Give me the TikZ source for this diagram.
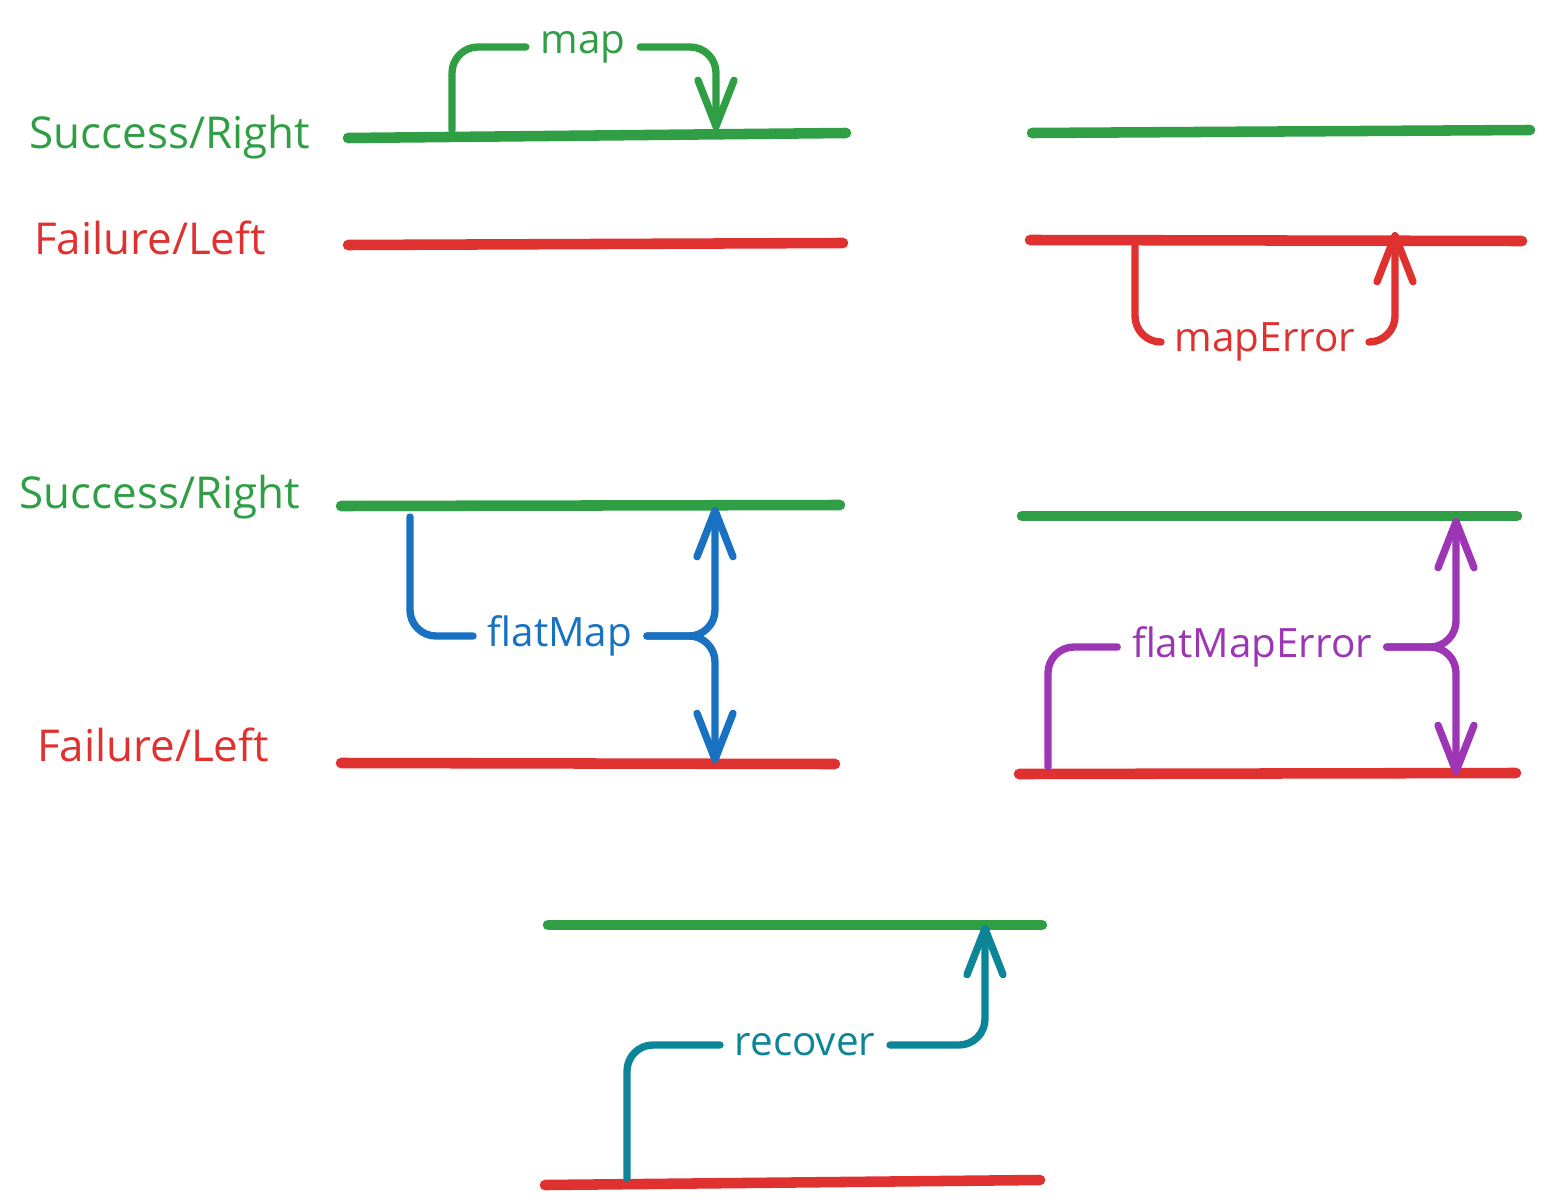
\documentclass[tikz,border=0pt]{standalone}
\usepackage{fontspec}
\setmainfont{Open Sans}
\usetikzlibrary{arrows.meta,calc,positioning}

\definecolor{okGreen}{HTML}{2F9E44}
\definecolor{failRed}{HTML}{E03131}
\definecolor{flatBlue}{HTML}{1971C2}
\definecolor{flatPurple}{HTML}{9C36B5}
\definecolor{recTeal}{HTML}{0C8599}

\begin{document}
\begin{tikzpicture}[
  line cap=round,
  line join=round,
  font=\fontsize{12.5}{15}\selectfont,
  track/.style={line width=3pt},
  okTrack/.style={track, draw=okGreen},
  failTrack/.style={track, draw=failRed},
  flow/.style={line width=2.1pt, rounded corners=0.26cm},
  tip/.style={flow, -{Straight Barb[length=4.6mm,width=3.6mm,round]}},
  opLabel/.style={inner xsep=4pt, inner ysep=1pt, font=\fontsize{11.5}{14}\selectfont},
  sideLabel/.style={inner sep=1pt}
]
\useasboundingbox (0,0) rectangle (15.5,-12.04);

% Track labels.
\node[sideLabel, text=okGreen] (okLabelA) at (1.70,-1.37) {Success/Right};
\node[sideLabel, text=failRed] (failLabelA) at (1.50,-2.38) {Failure/Left};
\node[sideLabel, text=okGreen] (okLabelB) at (1.60,-4.97) {Success/Right};
\node[sideLabel, text=failRed] (failLabelB) at (1.53,-7.45) {Failure/Left};

% Railway tracks.
\draw[okTrack] (3.48,-1.38) -- (8.46,-1.33);
\draw[failTrack] (3.48,-2.45) -- (8.43,-2.43);
\draw[okTrack] (10.32,-1.33) -- (15.30,-1.30);
\draw[failTrack] (10.30,-2.40) -- (15.22,-2.41);
\draw[okTrack] (3.41,-5.06) -- (8.40,-5.05);
\draw[failTrack] (3.41,-7.63) -- (8.35,-7.64);
\draw[okTrack] (10.22,-5.16) -- (15.17,-5.16);
\draw[failTrack] (10.19,-7.74) -- (15.16,-7.73);
\draw[okTrack] (5.48,-9.25) -- (10.42,-9.25);
\draw[failTrack] (5.45,-11.85) -- (10.40,-11.80);

% map: success to success.
\node[opLabel, text=okGreen] (mapLabel) at (5.83,-0.47) {map};
\coordinate (mapStart) at (4.52,-1.30);
\coordinate (mapEnd) at (7.16,-1.30);
\draw[flow, okGreen] (mapStart) |- (mapLabel.west);
\draw[tip, okGreen] (mapLabel.east) -| (mapEnd);

% mapError: failure to failure.
\node[opLabel, text=failRed] (mapErrLabel) at (12.65,-3.42) {mapError};
\coordinate (mapErrStart) at (11.35,-2.45);
\coordinate (mapErrEnd) at (13.95,-2.32);
\draw[flow, failRed] (mapErrStart) |- (mapErrLabel.west);
\draw[tip, failRed] (mapErrLabel.east) -| (mapErrEnd);

% flatMap: success to either track.
\node[opLabel, text=flatBlue] (flatMapLabel) at (5.60,-6.36) {flatMap};
\coordinate (flatMapStart) at (4.10,-5.17);
\coordinate (flatMapUp) at (7.15,-5.07);
\coordinate (flatMapDown) at (7.15,-7.63);
\draw[flow, flatBlue] (flatMapStart) |- (flatMapLabel.west);
\draw[tip, flatBlue] (flatMapLabel.east) -| (flatMapUp);
\draw[tip, flatBlue] (flatMapLabel.east) -| (flatMapDown);

% flatMapError: failure to either track.
\node[opLabel, text=flatPurple] (flatMapErrLabel) at (12.52,-6.47) {flatMapError};
\coordinate (flatMapErrStart) at (10.48,-7.67);
\coordinate (flatMapErrUp) at (14.56,-5.18);
\coordinate (flatMapErrDown) at (14.56,-7.75);
\draw[flow, flatPurple] (flatMapErrStart) |- (flatMapErrLabel.west);
\draw[tip, flatPurple] (flatMapErrLabel.east) -| (flatMapErrUp);
\draw[tip, flatPurple] (flatMapErrLabel.east) -| (flatMapErrDown);

% recover: failure back to success.
\node[opLabel, text=recTeal] (recoverLabel) at (8.05,-10.45) {recover};
\coordinate (recoverStart) at (6.27,-11.78);
\coordinate (recoverEnd) at (9.85,-9.25);
\draw[flow, recTeal] (recoverStart) |- (recoverLabel.west);
\draw[tip, recTeal] (recoverLabel.east) -| (recoverEnd);

\end{tikzpicture}
\end{document}
